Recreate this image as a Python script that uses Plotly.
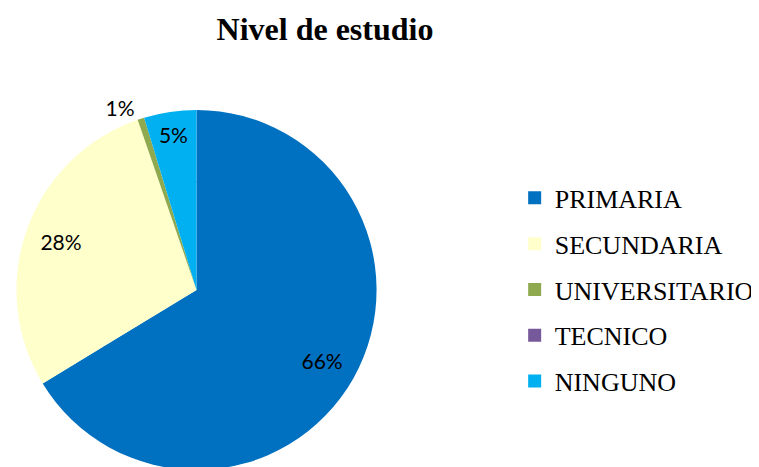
import plotly.graph_objects as go

categories = ["PRIMARIA", "SECUNDARIA", "UNIVERSITARIO", "TECNICO", "NINGUNO"]
values = [66.3, 28.4, 0.6, 0.0, 4.7]
colors = ["#0070C0", "#FFFFCC", "#8FA94F", "#76599B", "#00B0F0"]
text_pos = ["inside", "inside", "outside", "none", "inside"]

W, H = 759, 467
CX, R = 195 - 8, 182
HOLE = 0.6
fig = go.Figure()
fig.add_trace(go.Pie(
    labels=categories, values=values, sort=False, direction="clockwise",
    rotation=0, marker=dict(colors=colors, line=dict(width=0)), hole=HOLE,
    textinfo="percent", texttemplate="%{percent:.0%}",
    textposition=text_pos, insidetextorientation="horizontal",
    textfont=dict(family="Lato, Liberation Sans, sans-serif", size=21, color="black"),
    domain=dict(x=[(CX - R) / W, (CX + R) / W], y=[0, 2 * R / H]),
    showlegend=False, hoverinfo="label+percent",
))
r2 = R * HOLE + 1
fig.add_trace(go.Pie(
    labels=categories, values=values, sort=False, direction="clockwise",
    rotation=0, marker=dict(colors=colors, line=dict(width=0)),
    textinfo="none",
    domain=dict(x=[(CX - r2) / W, (CX + r2) / W], y=[(R - r2) / H, (R + r2) / H]),
    showlegend=False, hoverinfo="label+percent",
))
for c, col in zip(categories, colors):
    fig.add_trace(go.Scatter(
        x=[None], y=[None], mode="markers", name=c, legendgroup=c,
        marker=dict(symbol="square", size=13, color=col),
    ))

fig.update_layout(
    width=W, height=H, margin=dict(l=0, r=0, t=0, b=0),
    paper_bgcolor="white", plot_bgcolor="white",
    title=dict(text="<b>Nivel de estudio</b>", x=317 / W, xanchor="center",
               y=1 - 21 / H, yanchor="middle",
               font=dict(family="Liberation Serif, Times New Roman, serif", size=32, color="black")),
    xaxis=dict(visible=False), yaxis=dict(visible=False),
    legend=dict(x=506 / W, xanchor="left", y=1 - 285 / H, yanchor="middle",
                font=dict(family="Liberation Serif, Times New Roman, serif", size=26, color="black"),
                tracegroupgap=9, itemclick=False, bgcolor="rgba(0,0,0,0)"),
)
fig.write_html("out.html")
